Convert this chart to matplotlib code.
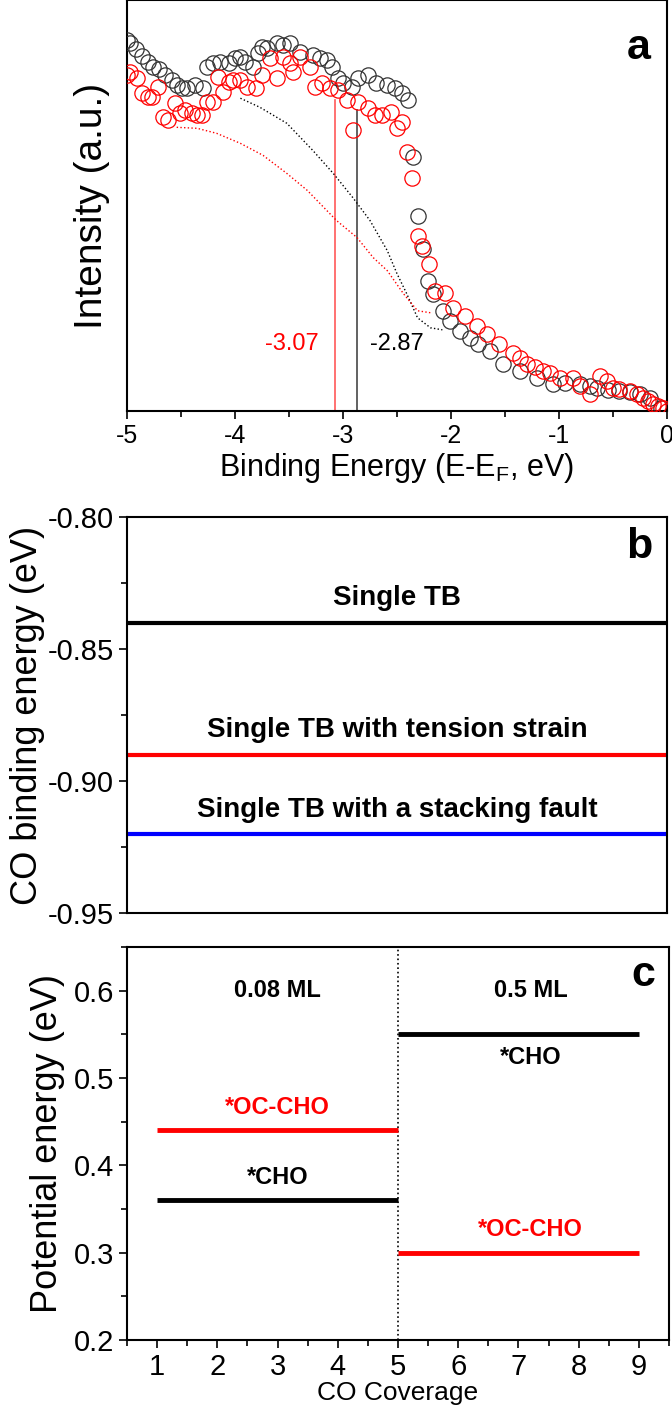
import numpy as np
import matplotlib
matplotlib.use('Agg')
import matplotlib.pyplot as plt
from matplotlib import font_manager
from matplotlib.ticker import MultipleLocator, NullLocator

plt.rcParams['font.family'] = ['Liberation Sans', 'DejaVu Sans']
plt.rcParams['axes.unicode_minus'] = False
# panel c of the original uses a narrow face, take it when it is there
names = {f.name for f in font_manager.fontManager.ttflist}
narrow = ['Liberation Sans Narrow'] if 'Liberation Sans Narrow' in names else ['Liberation Sans']

# ---- panel a: spectra (binding energy in eV, intensity in a.u.)
e_black = [-5.00, -4.97, -4.92, -4.86, -4.81, -4.76, -4.70, -4.65, -4.58, -4.54, -4.49, -4.44,
           -4.37, -4.30, -4.26, -4.20, -4.14, -4.06, -4.00, -3.95, -3.91, -3.83, -3.79, -3.75,
           -3.70, -3.61, -3.56, -3.49, -3.40, -3.28, -3.21, -3.15, -3.10, -3.05, -3.00, -2.92,
           -2.86, -2.77, -2.69, -2.59, -2.52, -2.45, -2.40, -2.35, -2.31, -2.26, -2.21, -2.17,
           -2.07, -2.01, -1.92, -1.82, -1.75, -1.64, -1.52, -1.36, -1.20, -1.06, -0.94, -0.81,
           -0.71, -0.65, -0.55, -0.44, -0.34, -0.25, -0.16, -0.06]
i_black = [3.70, 3.67, 3.61, 3.54, 3.48, 3.43, 3.41, 3.35, 3.30, 3.25, 3.22, 3.22,
           3.25, 3.22, 3.43, 3.47, 3.48, 3.47, 3.52, 3.53, 3.48, 3.43, 3.57, 3.63,
           3.62, 3.67, 3.65, 3.67, 3.58, 3.55, 3.52, 3.50, 3.43, 3.32, 3.27, 3.23,
           3.32, 3.35, 3.27, 3.25, 3.22, 3.17, 3.10, 2.53, 1.95, 1.62, 1.30, 1.17,
           1.00, 0.90, 0.80, 0.73, 0.67, 0.60, 0.47, 0.40, 0.33, 0.27, 0.28, 0.27,
           0.25, 0.23, 0.21, 0.20, 0.19, 0.17, 0.13, 0.03]

e_red = [-5.00, -4.97, -4.91, -4.86, -4.81, -4.77, -4.71, -4.67, -4.62, -4.56, -4.51, -4.46,
         -4.40, -4.35, -4.31, -4.26, -4.20, -4.16, -4.11, -4.06, -4.02, -3.95, -3.89, -3.81,
         -3.75, -3.68, -3.61, -3.56, -3.49, -3.46, -3.40, -3.31, -3.26, -3.19, -3.12, -3.05,
         -2.96, -2.91, -2.86, -2.77, -2.70, -2.64, -2.56, -2.50, -2.45, -2.41, -2.36, -2.31,
         -2.27, -2.20, -2.15, -2.06, -1.98, -1.87, -1.76, -1.67, -1.56, -1.43, -1.36, -1.30,
         -1.22, -1.15, -1.08, -0.99, -0.87, -0.81, -0.71, -0.62, -0.56, -0.50, -0.44, -0.34,
         -0.28, -0.22, -0.18, -0.13, -0.08, -0.04, 0.00]
i_red = [3.35, 3.38, 3.32, 3.17, 3.13, 3.13, 3.23, 2.93, 2.90, 3.07, 2.97, 3.00,
         2.97, 2.95, 2.95, 3.08, 3.08, 3.33, 3.18, 3.28, 3.30, 3.30, 3.23, 3.22,
         3.35, 3.52, 3.32, 3.53, 3.47, 3.38, 3.53, 3.43, 3.23, 3.27, 3.22, 3.20,
         3.10, 2.80, 3.08, 3.02, 2.95, 2.95, 2.98, 2.82, 2.88, 2.58, 2.32, 1.75,
         1.65, 1.47, 1.20, 1.18, 1.03, 0.95, 0.85, 0.77, 0.67, 0.58, 0.53, 0.47,
         0.44, 0.40, 0.38, 0.33, 0.33, 0.25, 0.17, 0.35, 0.30, 0.23, 0.22, 0.20,
         0.17, 0.13, 0.10, 0.07, 0.05, 0.03, 0.00]

# dotted background curves
e_bg_black = [-3.95, -3.77, -3.52, -3.28, -3.09, -2.91, -2.75, -2.59, -2.50, -2.41, -2.31, -2.19, -2.08]
i_bg_black = [3.12, 3.03, 2.87, 2.60, 2.37, 2.13, 1.90, 1.60, 1.37, 1.17, 0.93, 0.83, 0.81]
e_bg_red = [-4.54, -4.35, -4.17, -3.95, -3.74, -3.52, -3.33, -3.15, -3.06, -2.87, -2.72, -2.59, -2.44, -2.31, -2.19]
i_bg_red = [2.83, 2.82, 2.77, 2.67, 2.55, 2.37, 2.20, 2.00, 1.90, 1.73, 1.53, 1.40, 1.17, 1.00, 0.98]

edge_red, edge_black = -3.07, -2.87

# ---- panel b: CO binding energies
b_labels = ['Single TB', 'Single TB with tension strain', 'Single TB with a stacking fault']
b_values = [-0.84, -0.89, -0.92]
b_colors = ['black', 'red', 'blue']

# ---- panel c: potential energy vs CO coverage
c_left = [1, 5]
c_right = [5, 9]
cho = [0.36, 0.55]
occho = [0.44, 0.30]
coverage_names = ['0.08 ML', '0.5 ML']

W, H = 672, 1408
fig = plt.figure(figsize=(W / 100, H / 100), dpi=100)

def box(l, t, r, b):
    return [l / W, 1 - b / H, (r - l) / W, (b - t) / H]

# ===== panel a
ax = fig.add_axes(box(127, 0, 667, 411))
ax.axvline(edge_red, ymax=3.10 / 4.1, color='#ff6666', lw=1.3, zorder=1)
ax.axvline(edge_black, ymax=3.00 / 4.1, color='#555555', lw=1.3, zorder=1)
ax.plot(e_bg_black, i_bg_black, ':', color='black', lw=1.0)
ax.plot(e_bg_red, i_bg_red, ':', color='red', lw=1.0)
ax.plot(e_black, i_black, 'o', mfc='none', mec='#333333', mew=0.9, ms=11, zorder=3)
ax.plot(e_red, i_red, 'o', mfc='none', mec='red', mew=0.9, ms=11, zorder=4)
ax.text(edge_red - 0.15, 0.67, '-3.07', color='red', fontsize=17, ha='right', va='center')
ax.text(edge_black + 0.12, 0.67, '-2.87', color='black', fontsize=17, ha='left', va='center')
ax.text(0.948, 0.883, 'a', transform=ax.transAxes, fontsize=31, fontweight='bold', ha='center', va='center')
ax.set_xlim(-5, 0)
ax.set_ylim(0, 4.1)
ax.xaxis.set_major_locator(MultipleLocator(1))
ax.xaxis.set_minor_locator(MultipleLocator(0.5))
ax.xaxis.set_major_formatter(plt.FuncFormatter(lambda v, p: f'{v:.0f}'))
ax.yaxis.set_major_locator(NullLocator())
ax.tick_params(axis='x', which='both', direction='out', labelsize=18, width=1.2)
ax.tick_params(axis='x', which='major', length=6)
ax.tick_params(axis='x', which='minor', length=4)
ax.set_xlabel('Binding Energy (E-E$_\\mathregular{F}$, eV)', fontsize=22, labelpad=2)
ax.set_ylabel('Intensity (a.u.)', fontsize=28, labelpad=12)
for s in ax.spines.values():
    s.set_linewidth(1.5)

# ===== panel b
ax = fig.add_axes(box(127, 517, 667, 913))
for lab, v, c in zip(b_labels, b_values, b_colors):
    ax.axhline(v, color=c, lw=3)
    ax.text(0.5, v + 0.0092, lab, transform=ax.get_yaxis_transform(), ha='center', va='center',
            fontsize=20, fontweight='bold')
ax.text(0.948, 0.924, 'b', transform=ax.transAxes, fontsize=31, fontweight='bold', ha='center', va='center')
ax.set_ylim(-0.95, -0.80)
ax.set_xlim(0, 1)
ax.xaxis.set_major_locator(NullLocator())
ax.yaxis.set_major_locator(MultipleLocator(0.05))
ax.yaxis.set_minor_locator(MultipleLocator(0.025))
ax.yaxis.set_major_formatter(plt.FuncFormatter(lambda v, p: f'{v:.2f}'))
ax.tick_params(axis='y', which='both', direction='out', labelsize=21, width=1.2)
ax.tick_params(axis='y', which='major', length=6)
ax.tick_params(axis='y', which='minor', length=4)
ax.set_ylabel('CO binding energy (eV)', fontsize=26, labelpad=2)
for s in ax.spines.values():
    s.set_linewidth(1.5)

# ===== panel c
ax = fig.add_axes(box(127, 947, 669, 1340))
ax.axvline(5, color='black', ls=':', lw=1.2)
ax.hlines(cho, c_left, c_right, color='black', lw=3.5)
ax.hlines(occho, c_left, c_right, color='red', lw=3.5)
mid = [(a + b) / 2 for a, b in zip(c_left, c_right)]
mid[1] += 0.2
for m, name in zip(mid, coverage_names):
    ax.text(m, 0.60, name, ha='center', va='center', fontsize=17, fontweight='bold', family=narrow)
for m, v in zip(mid, cho):
    dy = 0.026 if v < 0.5 else -0.027
    ax.text(m, v + dy, '*CHO', ha='center', va='center', fontsize=17, fontweight='bold', family=narrow)
for m, v in zip(mid, occho):
    ax.text(m, v + 0.026, '*OC-CHO', ha='center', va='center', fontsize=17, fontweight='bold',
            color='red', family=narrow)
ax.text(0.952, 0.929, 'c', transform=ax.transAxes, fontsize=31, fontweight='bold', ha='center', va='center')
ax.set_xlim(0.5, 9.5)
ax.set_ylim(0.2, 0.65)
ax.xaxis.set_major_locator(MultipleLocator(1))
ax.xaxis.set_minor_locator(MultipleLocator(0.5))
ax.yaxis.set_major_locator(MultipleLocator(0.1))
ax.yaxis.set_minor_locator(MultipleLocator(0.05))
ax.tick_params(which='both', direction='out', labelsize=21, width=1.2)
ax.tick_params(which='major', length=6)
ax.tick_params(which='minor', length=4)
for t in ax.get_xticklabels() + ax.get_yticklabels():
    t.set_family(narrow)
ax.set_xlabel('CO Coverage', fontsize=19, family=narrow, labelpad=0)
ax.set_ylabel('Potential energy (eV)', fontsize=26, labelpad=6)
for s in ax.spines.values():
    s.set_linewidth(1.5)

fig.savefig('out.png', dpi=100)
